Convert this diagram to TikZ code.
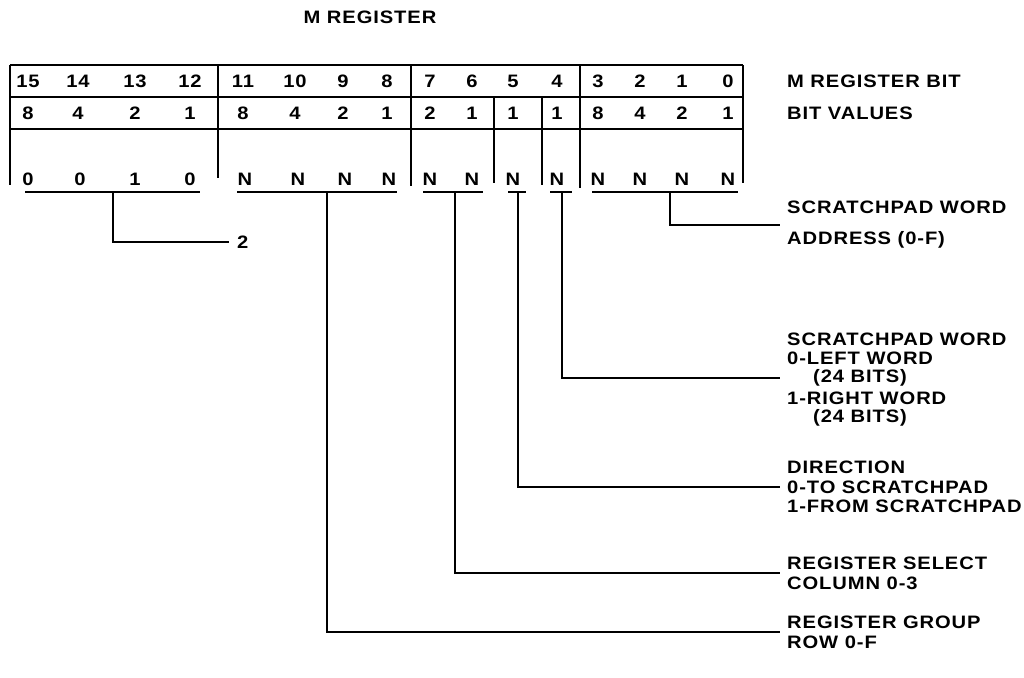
\documentclass[tikz,border=0pt]{standalone}
\usepackage{fontspec}
\setmainfont{Liberation Sans}[FakeStretch=1.12,LetterSpace=5]
\begin{document}
\begin{tikzpicture}[x=1pt,y=-1pt,
  ln/.style={line width=1.7pt},
  txt/.style={inner sep=0pt,font=\fontsize{18}{21}\selectfont\bfseries},
  lab/.style={txt,anchor=west}]
\useasboundingbox (0,0) rectangle (1024,677);
% title
\node[txt] (title) at (370,17) {M REGISTER};
% table frame
\draw[ln] (10,65) -- (743,65);
\draw[ln] (10,97) -- (743,97);
\draw[ln] (10,129) -- (743,129);
\draw[ln] (10,65) -- (10,185);
\draw[ln] (218,65) -- (218,178);
\draw[ln] (411,65) -- (411,186);
\draw[ln] (494,97) -- (494,183);
\draw[ln] (542,97) -- (542,185);
\draw[ln] (580,65) -- (580,188);
\draw[ln] (743,65) -- (743,183);
% cells
\foreach \t/\x [count=\i] in {15/28,14/78,13/135,12/190,11/243,10/295,9/343,8/387,7/430,6/472,5/513,4/557,3/598,2/640,1/682,0/728}
  \node[txt] (b\i) at (\x,81) {\t};
\foreach \t/\x [count=\i] in {8/28,4/78,2/135,1/190,8/243,4/295,2/343,1/387,2/430,1/472,1/513,1/557,8/598,4/640,2/682,1/728}
  \node[txt] (v\i) at (\x,113) {\t};
\foreach \t/\x [count=\i] in {0/28,0/80,1/135,0/190,N/245,N/298,N/345,N/389,N/430,N/472,N/513,N/557,N/598,N/640,N/682,N/728}
  \node[txt] (n\i) at (\x,179) {\t};
% right labels
\node[lab] (lbit) at (787,81) {M REGISTER BIT};
\node[lab] (lval) at (787,113) {BIT VALUES};
\node[lab] (la1) at (787,207) {SCRATCHPAD WORD};
\node[lab] (la2) at (787,240) {ADDRESS (0-F)};
\node[lab] (lb1) at (787,339) {SCRATCHPAD WORD};
\node[lab] (lb2) at (787,358) {0-LEFT WORD};
\node[lab] (lb3) at (813,378) {(24 BITS)};
\node[lab] (lb4) at (787,398) {1-RIGHT WORD};
\node[lab] (lb5) at (813,418) {(24 BITS)};
\node[lab] (lc1) at (787,467) {DIRECTION};
\node[lab] (lc2) at (787,487) {0-TO SCRATCHPAD};
\node[lab] (lc3) at (787,506) {1-FROM SCRATCHPAD};
\node[lab] (ld1) at (787,563) {REGISTER SELECT};
\node[lab] (ld2) at (787,583) {COLUMN 0-3};
\node[lab] (le1) at (787,622) {REGISTER GROUP};
\node[lab] (le2) at (787,642) {ROW 0-F};
\node[lab] (two) at (237,242) {2};
% underlines and stems
\coordinate (s1) at (113,192); \coordinate (e1) at (229,242);
\coordinate (s2) at (327,192); \coordinate (e2) at (780,632);
\coordinate (s3) at (455,192); \coordinate (e3) at (780,573);
\coordinate (s4) at (518,192); \coordinate (e4) at (780,487);
\coordinate (s5) at (562,192); \coordinate (e5) at (780,378);
\coordinate (s6) at (670,192); \coordinate (e6) at (780,225);
\draw[ln] (25,192) -- (200,192);
\draw[ln] (237,192) -- (397,192);
\draw[ln] (423,192) -- (483,192);
\draw[ln] (508,192) -- (526,192);
\draw[ln] (550,192) -- (572,192);
\draw[ln] (592,192) -- (738,192);
\draw[ln] (s1) |- (e1);
\draw[ln] (s2) |- (e2);
\draw[ln] (s3) |- (e3);
\draw[ln] (s4) |- (e4);
\draw[ln] (s5) |- (e5);
\draw[ln] (s6) |- (e6);
\end{tikzpicture}
\end{document}
